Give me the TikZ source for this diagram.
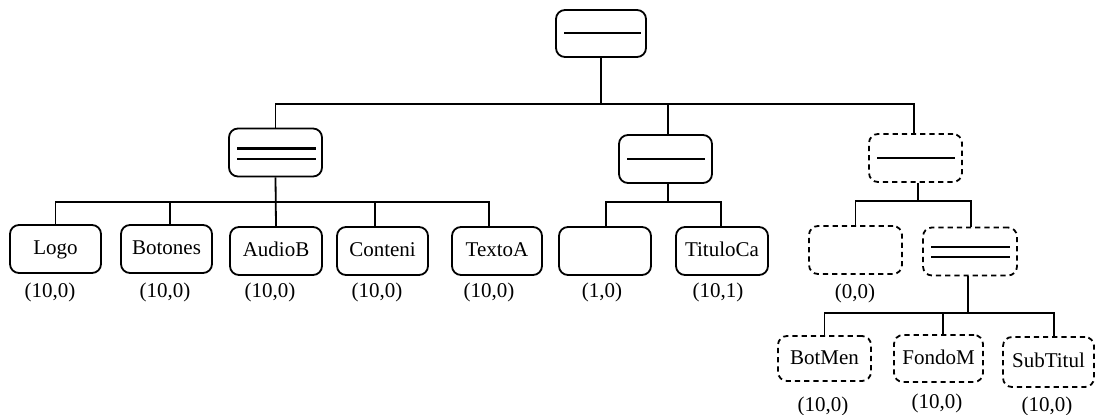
\documentclass[tikz,border=0pt]{standalone}
\usepackage{fontspec}
\setmainfont{Liberation Serif}
\begin{document}
\begin{tikzpicture}[x=0.5pt,y=-0.5pt,
  box/.style={draw,line width=0.9pt,rounded corners=4.5pt,rectangle,inner sep=0pt,
     minimum width=46pt,minimum height=24pt,text height=7pt,text depth=1.2pt,
     font=\fontsize{10.5}{12}\selectfont},
  dbox/.style={box,dash pattern=on 2.6pt off 2pt},
  lbl/.style={inner sep=0pt,font=\fontsize{10.5}{12}\selectfont},
  conn/.style={line width=0.9pt},
  bar/.style={line width=1pt}]
\useasboundingbox (0,0) rectangle (1096,415);
% level 0
\node[box,minimum width=45pt,minimum height=23.5pt] (root) at (601,33.5) {};
% level 1
\node[box,minimum width=46.5pt] (A) at (275.5,152.5) {};
\node[box,minimum width=46.5pt] (B) at (665.5,159) {};
\node[dbox,minimum width=46.5pt] (C) at (915.5,158) {};
% level 2 under A
\node[box,minimum width=45.5pt] (logo) at (55.5,249) {Logo};
\node[box,minimum width=45.5pt] (botones) at (166.5,249) {Botones};
\node[box,minimum width=46pt] (audio) at (276,251) {AudioB};
\node[box,minimum width=45.5pt] (conteni) at (382.5,251) {Conteni};
\node[box,minimum width=45pt] (texto) at (497,251) {TextoA};
% level 2 under B
\node[box,minimum width=46pt] (empty) at (605,251) {};
\node[box,minimum width=46pt] (titulo) at (722,251) {TituloCa};
% level 2 under C
\node[dbox,minimum width=46.5pt] (c1) at (855.5,250) {};
\node[dbox,minimum width=47pt] (c2) at (970,251.5) {};
% level 3 under c2
\node[dbox,minimum width=46.5pt,minimum height=22.5pt] (botmen) at (824.5,358.5) {BotMen};
\node[dbox,minimum width=44.5pt,minimum height=23.5pt] (fondo) at (938.5,358.5) {FondoM};
\node[dbox,minimum width=45.5pt,minimum height=25pt] (subtitul) at (1048.5,362) {SubTitul};

% inner bars
\draw[bar] ([xshift=4.5pt]root.west) -- ([xshift=-3pt]root.east);
\draw[bar,line width=1.3pt] ([xshift=4.5pt,yshift=2pt]A.west) -- ([xshift=-3.5pt,yshift=2pt]A.east);
\draw[bar] ([xshift=4.5pt,yshift=-3.5pt]A.west) -- ([xshift=-3.5pt,yshift=-3.5pt]A.east);
\draw[bar] ([xshift=4.5pt]B.west) -- ([xshift=-4pt]B.east);
\draw[bar] ([xshift=4.5pt]C.west) -- ([xshift=-4pt]C.east);
\draw[bar,line width=1.2pt] ([xshift=4.5pt,yshift=2.2pt]c2.west) -- ([xshift=-4pt,yshift=2.2pt]c2.east);
\draw[bar] ([xshift=4.5pt,yshift=-2.8pt]c2.west) -- ([xshift=-4pt,yshift=-2.8pt]c2.east);

% connectors level 0 -> 1
\coordinate (bus0) at (601,104);
\draw[conn] (root.south) -- (root.south |- bus0);
\draw[conn] ([xshift=0pt]A.north) |- (bus0) -| ([xshift=-0.8pt]C.north);
\draw[conn] ([xshift=1.2pt]B.north) -- ([xshift=1.2pt]B.north |- bus0);

% A -> children
\coordinate (busA) at (276,202);
\draw[conn] (A.south) -- (audio.north);
\draw[conn] (logo.north) |- (busA) -| ([xshift=-4pt]texto.north);
\draw[conn] ([xshift=1.7pt]botones.north) -- ([xshift=1.7pt]botones.north |- busA);
\draw[conn] ([xshift=-3.7pt]conteni.north) -- ([xshift=-3.7pt]conteni.north |- busA);

% B -> children
\coordinate (busB) at (668,202);
\draw[conn] ([xshift=1.2pt]B.south) -- ([xshift=1.2pt]B.south |- busB);
\draw[conn] ([xshift=0.5pt]empty.north) |- (busB) -| ([xshift=-0.5pt]titulo.north);

% C -> children
\coordinate (busC) at (918,201);
\draw[conn] ([xshift=1.2pt]C.south) -- ([xshift=1.2pt]C.south |- busC);
\draw[conn] (c1.north) |- (busC) -| ([xshift=0.5pt]c2.north);

% c2 -> children
\coordinate (busD) at (968,313);
\draw[conn] ([xshift=-1pt]c2.south) -- ([xshift=-1pt]c2.south |- busD);
\draw[conn] (botmen.north) |- (busD) -| ([xshift=2.7pt]subtitul.north);
\draw[conn] ([xshift=2.2pt]fondo.north) -- ([xshift=2.2pt]fondo.north |- busD);

% labels
\node[lbl] (logoL) at (50,292) {(10,0)};
\node[lbl] (botonesL) at (165,292) {(10,0)};
\node[lbl] (audioL) at (270,292) {(10,0)};
\node[lbl] (conteniL) at (377,292) {(10,0)};
\node[lbl] (textoL) at (489,292) {(10,0)};
\node[lbl] (emptyL) at (602,292) {(1,0)};
\node[lbl] (tituloL) at (718,292) {(10,1)};
\node[lbl] (c1L) at (855,293) {(0,0)};
\node[lbl] (botmenL) at (823,406) {(10,0)};
\node[lbl] (fondoL) at (937,403) {(10,0)};
\node[lbl] (subtitulL) at (1047,406) {(10,0)};
\end{tikzpicture}
\end{document}
